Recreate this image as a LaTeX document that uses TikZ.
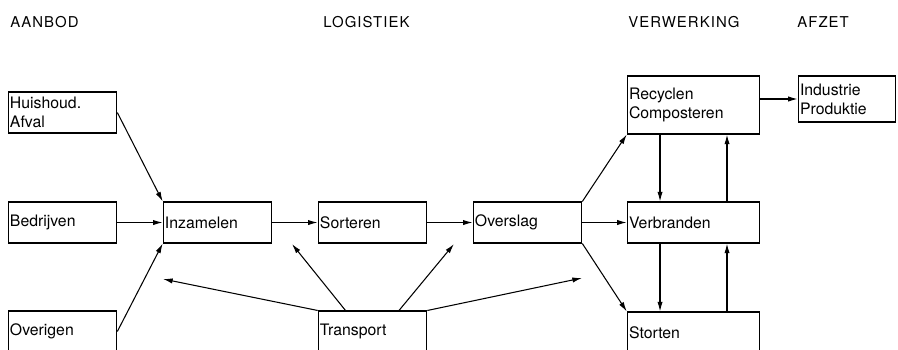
\documentclass[tikz,border=0pt]{standalone}
\usepackage{fontspec}
\setmainfont{TeX Gyre Heros}
\newfontfamily\headfont[LetterSpace=7]{TeX Gyre Heros}
\usetikzlibrary{arrows.meta, positioning}

\begin{document}
\begin{tikzpicture}[
        x=0.02cm, y=-0.02cm,
        box/.style={draw, line width=0.6pt, align=left, inner xsep=1pt, inner ysep=0pt,
            text width=59.8pt, minimum height=0.82cm, font=\fontsize{9}{10.8}\selectfont},
        wide/.style={text width=73.4pt},
        head/.style={anchor=base west, inner sep=0pt, font=\headfont\fontsize{8.5}{9}\selectfont},
        flow/.style={-{Latex[length=5.5pt, width=3pt]}, line width=0.6pt}
    ]
        \useasboundingbox (0,0) rectangle (898,349);

        % Headings
        \node[head] (haanbod) at (10,27) {AANBOD};
        \node[head] (hlogist) at (323,27) {LOGISTIEK};
        \node[head] (hverwerk) at (628,27) {VERWERKING};
        \node[head] (hafzet) at (797,27) {AFZET};

        % Aanbod
        \node[box] (huis) at (62.5,112.5) {Huishoud.\\Afval};
        \node[box] (bedr) at (62.5,222.5) {Bedrijven};
        \node[box] (overig) at (62.5,331.5) {Overigen};

        % Logistiek
        \node[box] (inzam) at (217.5,222.5) {Inzamelen};
        \node[box] (sort) at (372.5,222.5) {Sorteren};
        \node[box] (oversl) at (527.5,222.5) {Overslag};
        \node[box] (transp) at (372.5,331.5) {Transport};

        % Verwerking
        \node[box, wide, minimum height=1.16cm] (recyc) at (693.5,105) {Recyclen\\Composteren};
        \node[box, wide] (verbr) at (693.5,222.5) {Verbranden};
        \node[box, wide] (stort) at (693.5,332.5) {Storten};

        % Afzet
        \node[box, text width=53.5pt, minimum height=0.92cm] (indus) at (847,99) {Industrie\\Produktie};

        % Free ends of the transport arrows
        \coordinate (tinzam) at (163,279);
        \coordinate (tsort) at (292,244);
        \coordinate (toversl) at (454,244);
        \coordinate (tverw) at (582,278);

        % Connectors
        \draw[flow] (huis.east) -- (inzam.north west);
        \draw[flow] (bedr) -- (inzam);
        \draw[flow] (overig.east) -- (inzam.south west);
        \draw[flow] (inzam) -- (sort);
        \draw[flow] (sort) -- (oversl);

        \draw[flow] (transp.north west) -- (tinzam);
        \draw[flow] ([xshift=-0.54cm]transp.north) -- (tsort);
        \draw[flow] ([xshift=0.53cm]transp.north) -- (toversl);
        \draw[flow] (transp.north east) -- (tverw);

        \draw[flow] (oversl.north east) -- (recyc.south west);
        \draw[flow] (oversl) -- (verbr);
        \draw[flow] (oversl.south east) -- (stort.north west);

        \draw[flow] ([xshift=-0.67cm]recyc.south) -- ([xshift=-0.67cm]verbr.north);
        \draw[flow] ([xshift=0.67cm]verbr.north) -- ([xshift=0.67cm]recyc.south);
        \draw[flow] ([xshift=-0.67cm]verbr.south) -- ([xshift=-0.67cm]stort.north);
        \draw[flow] ([xshift=0.67cm]stort.north) -- ([xshift=0.67cm]verbr.south);

        \draw[flow] (recyc.east |- indus.west) -- (indus.west);

    \end{tikzpicture}
\end{document}
